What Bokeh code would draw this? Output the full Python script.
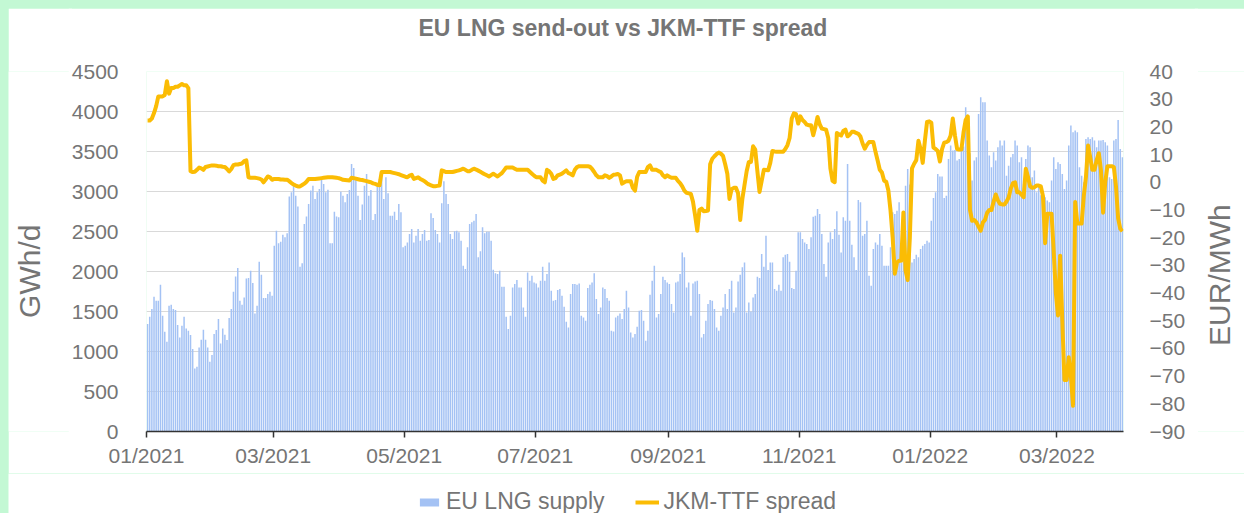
import math
import pandas as pd
from bokeh.plotting import figure
from bokeh.layouts import column, row
from bokeh.models import (Range1d, LinearAxis, FixedTicker, DatetimeTickFormatter,
                          Legend, LegendItem, ColumnDataSource, Label)
from bokeh.embed import file_html
from bokeh.resources import INLINE

# ---------------- data ----------------
first_day = "2021-01-01"

# EU LNG send-out, GWh/d (daily)
supply_jan_apr21 = [
    1343, 1434, 1530, 1685, 1635, 1635, 1835, 1447, 1247, 1122,
    1572, 1585, 1530, 1518, 1330, 1176, 1322, 1434, 1289, 1260,
    1205, 1030, 788, 809, 1050, 1147, 1272, 1147, 1050, 872,
    955, 1218, 1268, 1405, 1100, 1289, 1209, 1143, 1418, 1530,
    1747, 1939, 2043, 1635, 1585, 1676, 1914, 1918, 2010, 1856,
    1476, 1572, 2123, 1960, 1668, 1668, 1718, 1747, 1697, 2323,
    2510, 2352, 2373, 2460, 2427, 2477, 2936, 2990, 3073, 2948,
    2811, 2060, 2102, 2594, 2686, 2844, 3011, 3073, 2906, 2990,
    3032, 3144, 3094, 2990, 3023, 2352, 2352, 2748, 2686, 2677,
    2998, 2948, 2865, 2969, 3019]
supply_apr_jul21 = [
    3344, 3294, 3178, 2948, 2644, 2836, 3073, 3219, 2948,
    3019, 2644, 2719, 3094, 3157, 3178, 2906, 3178, 2977, 2698,
    2698, 2748, 2644, 2844, 2740, 2302, 2323, 2364, 2469,
    2531, 2364, 2448, 2531, 2385, 2469, 2519, 2385, 2394,
    2727, 2669, 2519, 2469, 2364, 2852, 3128, 2969, 2844,
    2469, 2406, 2502, 2510, 2490, 2385, 2072, 2031, 2302, 2594,
    2615, 2635, 2719, 2177, 2252, 2552, 2477, 2498, 2498,
    2385, 2022, 1977, 1968, 2010, 1810, 1810, 1434, 1280,
    1447, 1801, 1843, 1893, 1801, 1801, 1551, 1434, 1989, 1885,
    1947, 1864, 1851, 1801, 1885, 2060, 1885, 1968, 2114,
    1760, 1635, 1643, 1768, 1781, 1697, 1560, 1372, 1301,
    1718, 1843, 1843, 1835, 1851]
supply_jul_nov21 = [
    1447, 1426, 1384, 1793, 1835, 1864, 1977, 1655, 1468,
    1551, 1801, 1781, 1668, 1635, 1259, 1251, 1426, 1447, 1476,
    1405, 1530, 1760, 1551, 1238, 1176, 1218, 1309, 1510,
    1518, 1384, 1134, 1259, 1710, 1885, 2072, 1426, 1468,
    1718, 1935, 1893, 1864, 1843, 1593, 1489, 1864, 1876,
    1968, 2239, 2177, 1801, 1864, 1447, 1851, 1876, 1885, 1718,
    1176, 1218, 1384, 1593, 1643, 1635, 1530, 1301, 1259,
    1447, 1551, 1718, 1530, 1781, 1885, 1489, 1551, 1876,
    1960, 2052, 2114, 1489, 1614, 1501, 1676, 1718, 1935, 1918,
    2218, 2060, 2448, 2018, 2114, 2114, 1781, 1760, 1835,
    1760, 2177, 2210, 2218, 2123, 1793, 1781, 2010, 2490,
    2490, 2406, 2364, 2343]
supply_nov21_feb22 = [
    2281,
    2427, 2685, 2698, 2781, 2719, 2469, 2093, 1935, 2364,
    2490, 2406, 2531, 2752, 2460, 2239, 2677, 2635, 3344, 2635,
    2335, 2177, 2018, 2894, 2865, 2448, 2469, 2635, 1947,
    1822, 2281, 2364, 2335, 2469, 2323, 2072, 2072, 2072,
    2302, 2740, 2719, 2760, 2865, 2114, 2448, 3073, 3282, 3086,
    2114, 2156, 2210, 2177, 2281, 2323, 2344, 2385, 2364,
    2635, 2919, 2990, 3219, 3186, 3186, 2919, 2948, 3407,
    3574, 3511, 3519, 3386, 3407, 3594, 3561, 4053, 3407,
    3478, 3136, 3386, 3428, 3970, 4178, 4116, 4116, 3636, 3449,
    3303, 3490, 3386, 3553, 3636, 3574, 3636, 3198, 3323,
    3428, 3469, 3636, 3574, 3365, 3428, 3094, 3407, 3574,
    3553, 3178, 3261, 2990, 3073]
supply_feb_mar22 = [
    2952, 2990, 2927, 2886, 2865, 3136, 3428, 3282, 3365, 3344,
    3219, 3032, 3136, 3574, 3824, 3740, 3761, 3740, 3303, 3198,
    3115, 3657, 3678, 3657, 3678, 3636, 3553, 3636, 3636, 3645,
    3615, 3574, 3178, 3157, 3636, 3657, 3895, 3532, 3428]

# JKM-TTF spread, EUR/MWh (daily)
spread_jan_apr21 = [
    22.3, 22.3, 23, 25, 27.5, 31, 31, 31, 31.5, 36.5,
    32, 34, 34, 34.5, 34.5, 35, 35.5, 35, 35, 34,
    4.0, 3.7, 3.8, 4.5, 5.3, 5.0, 4.5, 5.5, 5.7, 5.9,
    6.1, 6.1, 6.0, 5.8, 5.8, 5.6, 5.5, 4.8, 3.9, 4.8,
    6.2, 6.4, 6.4, 6.6, 6.8, 7.6, 7.9, 1.8, 1.6, 1.6,
    1.6, 1.5, 1.3, 1.0, 0.0, 1.0, 2.1, 1.8, 0.9, 1.2,
    1.2, 1.2, 1.0, 1.0, 0.9, 0.9, 0.4, -0.3, -0.8, -1.2,
    -1.5, -1.5, -1.0, -0.5, 0.2, 1.2, 1.2, 1.2, 1.2, 1.3,
    1.4, 1.5, 1.6, 1.7, 1.8, 1.8, 1.8, 1.7, 1.6, 1.5,
    1.2, 0.9, 0.8, 0.7, 0.6]
spread_apr_jul21 = [
    1.6, 1.5, 1.3, 1.1, 0.9, 0.8, 0.6, 0.4, 0.2, 0.0,
    -0.4, -0.6, -0.9, -1.1, 3.7, 3.7, 3.7, 3.7, 3.7, 3.5,
    3.3, 3.1, 2.9, 2.6, 2.3, 2.0, 1.8, 2.4, 2.7, 1.2,
    1.5, 1.8, 1.2, 0.8, 0.4, -0.3, -0.8, -1.1, -1.4, -1.4,
    -1.3, -1.2, 4.3, 4.0, 3.7, 3.7, 3.7, 3.7, 3.9, 4.1,
    4.3, 4.6, 4.9, 4.5, 4.0, 4.0, 4.5, 4.9, 4.6, 4.2,
    3.8, 3.3, 2.9, 2.5, 2.1, 2.6, 3.1, 2.6, 2.1, 2.7,
    3.3, 4.3, 5.3, 5.3, 5.3, 5.3, 4.9, 4.5, 4.5, 4.5,
    4.5, 4.5, 4.5, 3.8, 3.1, 2.4, 1.8, 1.8, 1.8, 0.6,
    0.0, 4.5, 4.0, 3.1, 1.2, 1.5, 2.5, 2.8, 3.1, 3.7,
    4.3, 3.3, 3.0, 2.5, 4.5, 5.5, 5.8]
spread_jul_nov21 = [
    5.8, 5.8, 5.8, 5.8, 5.6, 4.8, 3.7, 2.5, 1.8, 1.8,
    1.8, 2.5, 2.2, 1.6, 2.1, 2.7, 2.8, 3.0, 2.5, -0.5,
    0.0, 0.4, 0.4, 0.4, -2.0, -3.0, 2.0, 3.7, 3.7, 3.7,
    3.7, 5.5, 6.1, 4.5, 4.5, 4.5, 4.0, 3.7, 2.5, 1.8,
    2.5, 2.0, 1.6, 1.6, 1.6, 0.5, -0.3, -1.5, -3.0, -3.8,
    -4.0, -4.2, -7.0, -12.0, -17.5, -10.0, -9.5, -10.5, -10.4, -10.2,
    6.5, 8.5, 9.4, 10.2, 10.7, 10.3, 9.5, 6.5, 3.1, -6.0,
    -2.5, -2.0, -2.0, -4.0, -13.6, -6.0, -1.0, 4.0, 7.3, 7.3,
    13.0, 11.8, 4.0, -3.5, 0.5, 4.5, 4.4, 4.3, 7.0, 11.3,
    11.1, 11.0, 11.0, 11.0, 11.0, 12.0, 13.4, 16.0, 23.0, 24.9,
    24.6, 21.2, 23.8, 22.5, 21.8, 20.8]
spread_nov21_feb22 = [
    20.6, 20.6, 17.0, 20.0, 23.6, 21.0, 19.4, 19.2, 19.0, 16.0,
    5.0, 0.5, 0.0, 17.8, 17.3, 16.9, 18.5, 19.0, 16.6, 17.2,
    18.2, 18.2, 17.8, 17.5, 16.5, 14.0, 12.1, 13.5, 14.5, 14.5,
    14.5, 11.0, 7.9, 4.5, 3.5, 0.6, 0.2, -3.0, -10.2, -20.0,
    -33.0, -29.0, -28.3, -28.3, -10.9, -31.9, -35.3, -20.0, 5.0, 6.7,
    8.0, 15.0, 12.0, 7.0, 15.0, 21.8, 22.0, 21.5, 12.5, 12.0,
    11.3, 7.5, 12.0, 14.3, 14.5, 15.0, 16.9, 23.0, 17.0, 12.0,
    11.8, 11.8, 18.0, 22.5, 23.8, -10.0, -13.9, -13.6, -14.5, -16.0,
    -17.5, -14.5, -13.6, -11.0, -10.0, -10.0, -7.0, -4.4, -6.5, -7.8,
    -8.0, -8.0, -7.0, -5.5, -2.3, -0.3, 0.0, -3.6, -3.6, -4.5,
    -5.4, 4.9, 2.0, -1.5, -2.0, -1.8, -1.2, -1.2]
spread_feb_mar22 = [
    -1.5, -5.0, -22.0, -11.4, -11.4, -11.4, -25.0, -40.0, -48.1, -26.5,
    -50.0, -71.4, -71.4, -63.2, -70.0, -80.7, -7.1, -14.9, -14.9, -14.9,
    -5.0, 1.8, 13.3, 9.0, 4.5, 4.5, 8.0, 10.5, 4.3, -11.0,
    0.0, 5.8, 5.8, 5.8, 5.5, -1.5, -13.0, -16.8, -17.7]

supply = (supply_jan_apr21 + supply_apr_jul21 + supply_jul_nov21
          + supply_nov21_feb22 + supply_feb_mar22)
spread = (spread_jan_apr21 + spread_apr_jul21 + spread_jul_nov21
          + spread_nov21_feb22 + spread_feb_mar22)
assert len(supply) == len(spread), (len(supply), len(spread))

dates = pd.date_range(first_day, periods=len(supply), freq="D")

left_ticks = [0, 500, 1000, 1500, 2000, 2500, 3000, 3500, 4000, 4500]
right_ticks = [-90, -80, -70, -60, -50, -40, -30, -20, -10, 0, 10, 20, 30, 40]
x_ticks = ["2021-01-01", "2021-03-01", "2021-05-01", "2021-07-01",
           "2021-09-01", "2021-11-01", "2022-01-01", "2022-03-01"]

title_text = "EU LNG send-out vs JKM-TTF spread"
left_label = "GWh/d"
right_label = "EUR/MWh"
bar_name = "EU LNG supply"
line_name = "JKM-TTF spread"

# ---------------- styles / layout ----------------
GREY = "#757575"
FONT = "Liberation Sans"
BAR_COLOR = "#a4c2f4"
LINE_COLOR = "#fbbc04"
PAGE_BG = "#c3f8d4"

TOTAL_W, TOTAL_H = 1236, 505
LEFT_W, RIGHT_W, OVERLAP = 60, 46, 4
MAIN_H = 465
LEG_H = TOTAL_H - MAIN_H
MAIN_W = TOTAL_W - LEFT_W - RIGHT_W

src = ColumnDataSource(dict(x=dates + pd.Timedelta(hours=12), supply=supply, spread=spread))

x_start = pd.Timestamp(first_day)
x_end = dates[-1] + pd.Timedelta(days=1)

p = figure(width=MAIN_W, height=MAIN_H, x_axis_type="datetime",
           x_range=Range1d(x_start, x_end), y_range=Range1d(0, 4500),
           output_backend="svg", toolbar_location=None,
           min_border_left=138 - LEFT_W, min_border_right=MAIN_W - (138 - LEFT_W) - 977,
           min_border_top=63, min_border_bottom=MAIN_H - 63 - 360)
p.outline_line_color = None
p.background_fill_color = "white"
p.border_fill_color = "white"

# trailing blank line lifts the title away from the plot area
p.title.text = title_text + "\n "
p.title.align = "left"
p.title.offset = 272 + LEFT_W - LEFT_W
p.title.vertical_align = "bottom"
p.title.text_font = FONT
p.title.text_font_style = "bold"
p.title.text_font_size = "23px"
p.title.text_color = GREY
p.title.standoff = 9

p.extra_y_ranges = {"spread": Range1d(-90, 40)}

bars = p.vbar(x="x", top="supply", width=0.7 * 86400000, source=src,
              fill_color=BAR_COLOR, line_color=None)
line = p.line(x="x", y="spread", source=src, y_range_name="spread",
              line_color=LINE_COLOR, line_width=4, line_join="round")

# x axis
xa = p.xaxis[0]
xa.ticker = FixedTicker(ticks=[pd.Timestamp(t).value / 1e6 for t in x_ticks])
fmt = "%m/%Y"
xa.formatter = DatetimeTickFormatter(milliseconds=fmt, seconds=fmt, minsec=fmt, minutes=fmt,
                                     hourmin=fmt, hours=fmt, days=fmt, months=fmt, years=fmt)
xa.axis_line_color = "#333333"
xa.axis_line_width = 1.5
xa.major_tick_line_color = "#333333"
xa.major_tick_line_width = 1.5
xa.major_tick_out = 6
xa.major_tick_in = 0
xa.minor_tick_line_color = None
xa.major_label_text_font = FONT
xa.major_label_text_font_size = "21px"
xa.major_label_text_color = GREY
xa.major_label_standoff = 6

# left axis (its title sits in the narrow left panel)
ya = p.yaxis[0]
ya.ticker = FixedTicker(ticks=left_ticks)
ya.axis_line_color = None
ya.major_tick_line_color = None
ya.minor_tick_line_color = None
ya.major_label_standoff = 22
ya.major_label_text_font = FONT
ya.major_label_text_font_size = "21px"
ya.major_label_text_color = GREY

# right axis (its title sits in the narrow right panel)
ra = LinearAxis(y_range_name="spread", ticker=FixedTicker(ticks=right_ticks))
ra.axis_line_color = None
ra.major_tick_line_color = None
ra.minor_tick_line_color = None
ra.major_label_standoff = 20
ra.major_label_text_font = FONT
ra.major_label_text_font_size = "21px"
ra.major_label_text_color = GREY
p.add_layout(ra, "right")

p.xgrid.grid_line_color = None
p.ygrid.grid_line_color = "#d9d9d9"
p.ygrid.grid_line_width = 1
p.ygrid.ticker = FixedTicker(ticks=left_ticks)


def side_panel(width, margin):
    f = figure(width=width, height=MAIN_H, x_range=Range1d(0, width), y_range=Range1d(0, MAIN_H),
               output_backend="svg", toolbar_location=None, min_border=0,
               x_axis_location=None, y_axis_location=None, margin=margin)
    f.outline_line_color = None
    f.grid.visible = False
    f.background_fill_color = "white"
    f.border_fill_color = "white"
    return f


# axis titles, reading bottom to top
left_side = side_panel(LEFT_W + OVERLAP, (0, -OVERLAP, 0, 0))
left_side.add_layout(Label(x=21.2, y=MAIN_H - 258, text=left_label, angle=math.pi / 2,
                           text_align="center", text_baseline="middle",
                           text_font=FONT, text_font_size="30px", text_color=GREY))
right_side = side_panel(RIGHT_W + OVERLAP, (0, 0, 0, -OVERLAP))
right_side.add_layout(Label(x=OVERLAP + 21.0, y=MAIN_H - 263, text=right_label, angle=math.pi / 2,
                            text_align="center", text_baseline="middle",
                            text_font=FONT, text_font_size="30px", text_color=GREY))

# legend strip below the chart (proxy glyphs sit outside its visible range)
leg = figure(width=TOTAL_W, height=LEG_H, x_range=Range1d(0, 1), y_range=Range1d(0, 1),
             output_backend="svg", toolbar_location=None, min_border=0,
             x_axis_location=None, y_axis_location=None)
leg.outline_line_color = None
leg.grid.visible = False
leg.background_fill_color = "white"
leg.border_fill_color = "white"
leg_bar = leg.vbar(x=[5], top=[5], bottom=[4], width=0.5, fill_color=BAR_COLOR, line_color=None)
leg_line = leg.line(x=[5, 6], y=[5, 5], line_color=LINE_COLOR, line_width=4)
legend = Legend(items=[LegendItem(label=bar_name, renderers=[leg_bar]),
                       LegendItem(label=line_name, renderers=[leg_line])],
                location=(409, -2), orientation="horizontal",
                border_line_color=None, background_fill_alpha=0,
                padding=0, margin=0, spacing=30, label_standoff=5,
                glyph_width=24, glyph_height=10,
                label_text_font=FONT, label_text_font_size="23px",
                label_text_color=GREY)
leg.add_layout(legend)

layout = column(row(left_side, p, right_side, spacing=0), leg, spacing=0)

page_css = ("<style>html{background:%s !important;}"
            "body{background:%s !important;margin:0 !important;"
            "padding:8px 0 0 8px !important;overflow:hidden !important;}</style></head>"
            % (PAGE_BG, PAGE_BG))
open("out.html", "w").write(file_html(layout, INLINE).replace("</head>", page_css, 1))
